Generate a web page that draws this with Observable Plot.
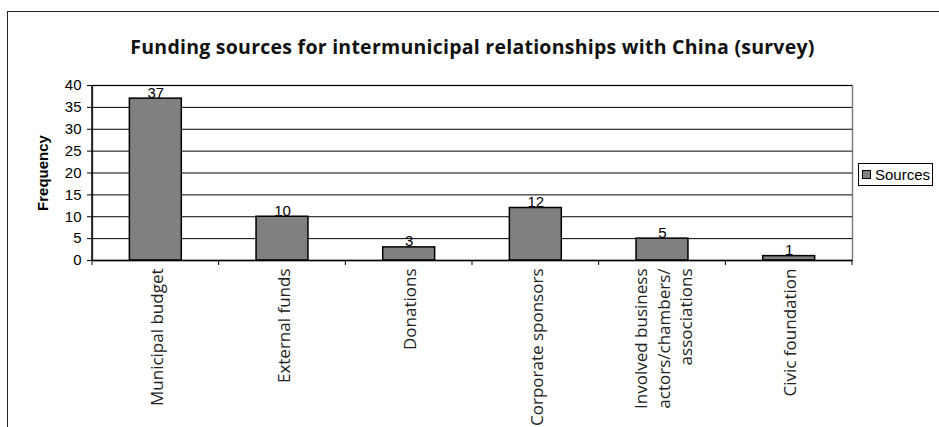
<!DOCTYPE html>
<html><head><meta charset="utf-8">
<script src="https://cdn.jsdelivr.net/npm/d3@7"></script>
<script src="https://cdn.jsdelivr.net/npm/@observablehq/plot@0.6"></script>
<style>
body{margin:0;background:#fff;}
#wrap{position:relative;width:939px;height:427px;overflow:hidden;}
#frame{position:absolute;left:7px;top:11px;width:1000px;height:1000px;border-left:1.5px solid #222;border-top:1.5px solid #222;pointer-events:none;}
#legend{position:absolute;left:858px;top:163px;width:75px;height:23px;border:1px solid #000;box-sizing:border-box;font:15px "Liberation Sans",Arial,sans-serif;display:flex;align-items:center;padding-left:3px;gap:4px;background:#fff;color:#000;}
#legend .sw{width:9px;height:9px;box-sizing:border-box;background:#808080;border:1.5px solid #000;}
</style>
</head><body>
<div id="wrap"><div id="frame"></div></div>
<script>
const title = "Funding sources for intermunicipal relationships with China (survey)";
const yLabel = "Frequency";
const seriesName = "Sources";
const categories = ["Municipal budget","External funds","Donations","Corporate sponsors","Involved business\nactors/chambers/\nassociations","Civic foundation"];
const values = [37, 10, 3, 12, 5, 1];
const yTicks = [0, 5, 10, 15, 20, 25, 30, 35, 40];

const data = categories.map((c, i) => ({category: c, value: values[i]}));

function boundaryTicks(index, scales, vals, dims) {
  const x = scales.x;
  const step = x.step(), bw = x.bandwidth();
  const gap = (step - bw) / 2;
  const bottom = dims.height - dims.marginBottom;
  const xs = categories.map(c => x(c) - gap);
  xs.push(x(categories[categories.length - 1]) + bw + gap);
  const g = d3.create("svg:g");
  for (const v of xs) {
    g.append("line").attr("x1", v).attr("x2", v).attr("y1", bottom).attr("y2", bottom + 5).attr("stroke", "#000");
  }
  g.append("line").attr("x1", dims.marginLeft).attr("x2", dims.marginLeft)
    .attr("y1", dims.marginTop).attr("y2", bottom).attr("stroke", "#000").attr("stroke-width", 1.5);
  return g.node();
}

const chart = Plot.plot({
  width: 939,
  height: 427,
  marginLeft: 92,
  marginRight: 87,
  marginTop: 85,
  marginBottom: 167,
  style: {background: "transparent", color: "#000"},
  x: {domain: categories, paddingInner: 0.59, paddingOuter: 0.295, round: false},
  y: {domain: [0, 40]},
  marks: [
    Plot.frame({stroke: "#808080", strokeWidth: 1.5}),
    Plot.gridY(yTicks, {stroke: "#000", strokeOpacity: 1, strokeWidth: 1}),
    Plot.barY(data, {x: "category", y: "value", fill: "#808080", stroke: "#000", strokeWidth: 1.5}),
    Plot.ruleY([0], {stroke: "#000", strokeWidth: 1.5}),
    boundaryTicks,
    Plot.axisY(yTicks, {tickSize: 5, tickPadding: 6, fontSize: 15, fontFamily: "Liberation Sans, Arial, sans-serif", label: null}),
    Plot.axisX({tickRotate: -90, tickSize: 0, tickPadding: 8, fontSize: 17, fontFamily: "Open Sans, sans-serif", lineHeight: 1.3, label: null, fill: "#222"}),
    Plot.text(data, {x: "category", y: "value", text: d => String(d.value), lineAnchor: "bottom", dy: -1, fontSize: 15, fontFamily: "Liberation Sans, Arial, sans-serif"}),
    Plot.text([title], {frameAnchor: "top", dy: -32, lineAnchor: "bottom", fontSize: 19.5, fontWeight: "bold", fontFamily: "Open Sans, sans-serif", fill: "#111"}),
    Plot.text([yLabel], {frameAnchor: "left", textAnchor: "middle", dx: -49, rotate: -90, fontSize: 15, fontWeight: "bold", fontFamily: "Liberation Sans, Arial, sans-serif"})
  ]
});
const wrap = document.getElementById("wrap");
wrap.insertBefore(chart, wrap.firstChild);
chart.querySelectorAll("text").forEach(t => { if (t.textContent === title) t.setAttribute("letter-spacing", "0.25"); });
const legend = document.createElement("div");
legend.id = "legend";
legend.innerHTML = '<div class="sw"></div><span></span>';
legend.querySelector("span").textContent = seriesName;
wrap.appendChild(legend);
</script>
</body></html>
